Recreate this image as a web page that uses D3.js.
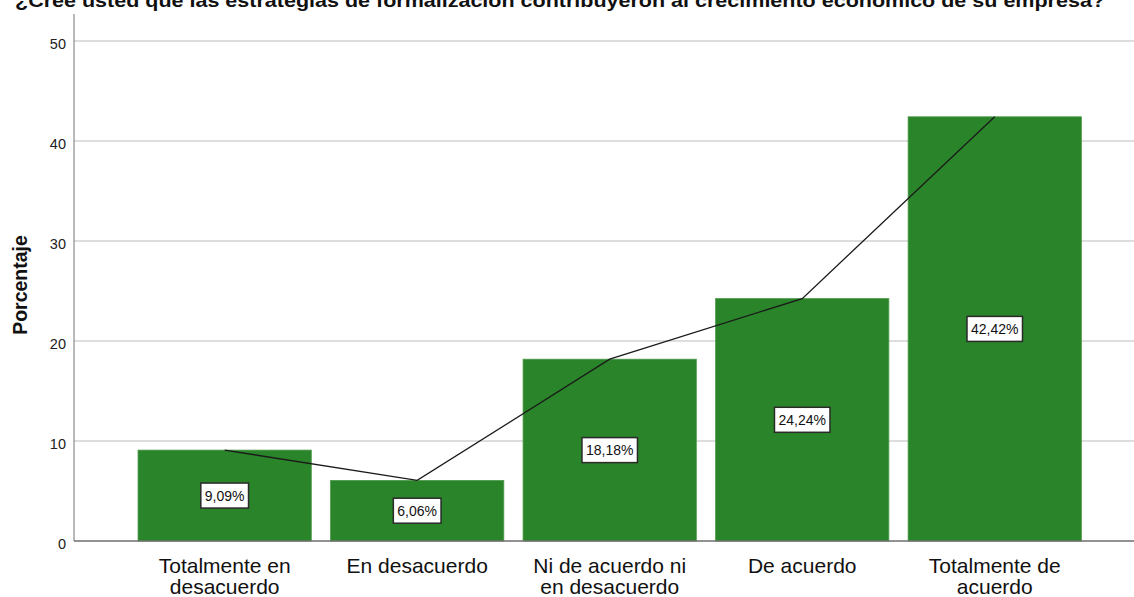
<!DOCTYPE html>
<html>
<head>
<meta charset="utf-8">
<script src="https://cdn.jsdelivr.net/npm/d3@7"></script>
<style>
  html, body { margin: 0; padding: 0; background: #fff; }
  svg { display: block; font-family: "Liberation Sans", Arial, sans-serif; }
</style>
</head>
<body>
<svg id="chart" width="1134" height="597"></svg>
<script>
// datos
const TITLE = '¿Cree usted que las estrategias de formalización contribuyeron al crecimiento económico de su empresa?';
const categories = [
  ['Totalmente en', 'desacuerdo'],
  ['En desacuerdo'],
  ['Ni de acuerdo ni', 'en desacuerdo'],
  ['De acuerdo'],
  ['Totalmente de', 'acuerdo']
];
const percents = [9.09, 6.06, 18.18, 24.24, 42.42];
const yTicks = [0, 10, 20, 30, 40, 50];

const W = 1134, H = 597;
const AXIS_X = 74, BASE_Y = 541, TOP_Y = 14;
const BAR_FILL = '#2a8429';

const svg = d3.select('#chart');
const keys = categories.map(c => c.join(' '));

const x = d3.scaleBand()
  .domain(keys)
  .range([128.4, 1091])
  .paddingInner(0.1)
  .paddingOuter(0.05);

const y = d3.scaleLinear().domain([0, 50]).range([BASE_Y, 41]);

// titulo (recortado arriba como en la imagen)
svg.append('text')
  .attr('x', 15).attr('y', 6.5)
  .attr('font-size', 19).attr('font-weight', 'bold')
  .attr('fill', '#111')
  .attr('textLength', 1090).attr('lengthAdjust', 'spacingAndGlyphs')
  .text(TITLE);

// rejilla
svg.append('g')
  .selectAll('line')
  .data(yTicks.filter(t => t > 0))
  .join('line')
  .attr('x1', AXIS_X).attr('x2', W)
  .attr('y1', d => y(d)).attr('y2', d => y(d))
  .attr('stroke', '#d2d2d2').attr('stroke-width', 1.6);

// barras
svg.append('g')
  .selectAll('rect')
  .data(percents)
  .join('rect')
  .attr('x', (d, i) => x(keys[i]))
  .attr('y', d => y(d))
  .attr('width', x.bandwidth())
  .attr('height', d => BASE_Y - y(d))
  .attr('fill', BAR_FILL)
  .attr('stroke', '#4f9a4d').attr('stroke-width', 0.8);

// linea
const line = d3.line()
  .x((d, i) => x(keys[i]) + x.bandwidth() / 2)
  .y(d => y(d));
svg.append('path')
  .datum(percents)
  .attr('d', line)
  .attr('fill', 'none')
  .attr('stroke', '#1a1a1a')
  .attr('stroke-width', 1.3);

// ejes
const yAxis = d3.axisLeft(y).tickValues(yTicks).tickSize(0).tickPadding(8);
const gy = svg.append('g').attr('transform', `translate(${AXIS_X},0)`).call(yAxis);
gy.select('.domain').remove();
gy.selectAll('text')
  .attr('font-family', '"Liberation Sans", Arial, sans-serif')
  .attr('font-size', 14.5).attr('fill', '#222')
  .attr('dy', '0.55em');

svg.append('line')
  .attr('x1', AXIS_X).attr('x2', AXIS_X)
  .attr('y1', TOP_Y).attr('y2', BASE_Y)
  .attr('stroke', '#8a8a8a').attr('stroke-width', 1.2);
svg.append('line')
  .attr('x1', AXIS_X).attr('x2', W)
  .attr('y1', BASE_Y).attr('y2', BASE_Y)
  .attr('stroke', '#6e6e6e').attr('stroke-width', 1.4);

// etiquetas de categoria
const cat = svg.append('g').selectAll('text')
  .data(categories)
  .join('text')
  .attr('text-anchor', 'middle')
  .attr('font-size', 21).attr('fill', '#111')
  .attr('transform', (d, i) => `translate(${x(keys[i]) + x.bandwidth() / 2},573)`);
cat.selectAll('tspan')
  .data(d => d)
  .join('tspan')
  .attr('x', 0)
  .attr('y', (d, j) => j * 21)
  .text(d => d);

// titulo eje y
svg.append('text')
  .attr('transform', `translate(27,285) rotate(-90)`)
  .attr('text-anchor', 'middle')
  .attr('font-size', 19.5).attr('font-weight', 'bold')
  .attr('fill', '#111')
  .text('Porcentaje');

// etiquetas de valor
const fmt = v => v.toFixed(2).replace('.', ',') + '%';
const lab = svg.append('g').selectAll('g')
  .data(percents)
  .join('g')
  .attr('transform', (d, i) => `translate(${x(keys[i]) + x.bandwidth() / 2},${y(d / 2)})`);
lab.append('rect');
lab.append('text')
  .attr('text-anchor', 'middle')
  .attr('dy', '0.36em')
  .attr('font-size', 14).attr('fill', '#111')
  .text(fmt);
lab.each(function () {
  const g = d3.select(this);
  const w = g.select('text').node().getComputedTextLength() + 8;
  g.select('rect')
    .attr('x', -w / 2).attr('y', -12.5)
    .attr('width', w).attr('height', 25)
    .attr('fill', '#fff')
    .attr('stroke', '#2a2a2a').attr('stroke-width', 1.5);
});
</script>
</body>
</html>
